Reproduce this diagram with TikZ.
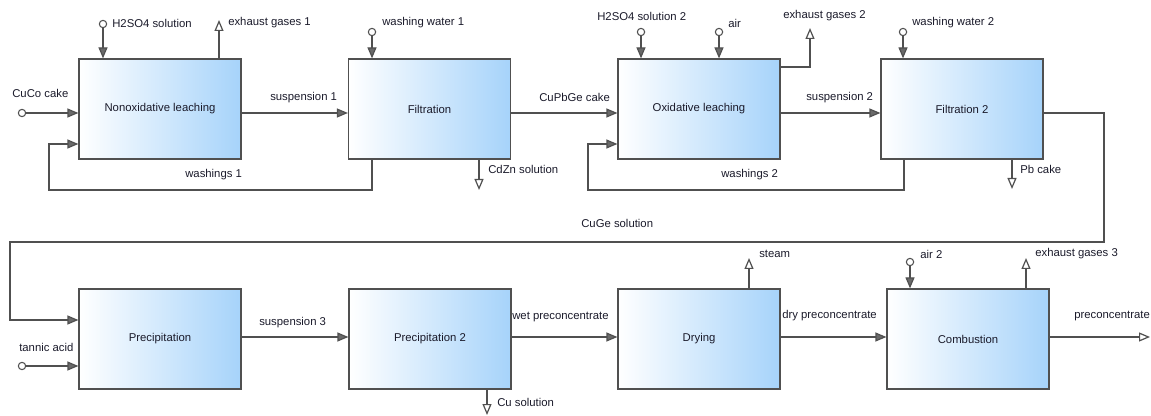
\documentclass[tikz,border=0pt]{standalone}
\usepackage{fontspec}
\setmainfont{Liberation Sans}
\usetikzlibrary{arrows.meta}
\definecolor{linegray}{HTML}{505050}
\definecolor{tipgray}{HTML}{6A6A6A}
\definecolor{boxblue}{HTML}{A6D3FA}
\definecolor{txt}{HTML}{1A1A2A}
\begin{document}
\begin{tikzpicture}[x=0.75pt,y=-0.75pt,
 proc/.style={draw=linegray, line width=0.9pt, left color=white, right color=boxblue, minimum width=121.5pt, minimum height=75pt, inner sep=0, font=\fontsize{8.5}{10}\selectfont, text=txt},
 lbl/.style={anchor=west, inner sep=0, font=\fontsize{8.5}{10}\selectfont, text=txt},
 src/.style={circle, draw=linegray, fill=white, line width=0.8pt, minimum size=5.5pt, inner sep=0},
 flow/.style={draw=linegray, line width=0.9pt, -{Triangle[length=8.25pt,width=6.75pt,fill=tipgray]}},
 outflow/.style={draw=linegray, line width=0.9pt, -{Triangle[length=8.25pt,width=6.75pt,fill=white]}},
]
\useasboundingbox (0,0) rectangle (1151,416);
% process boxes
\node[proc] (nl) at (160,109) {Nonoxidative leaching};
\node[proc] (f1) at (429.5,109) {Filtration};
\node[proc] (ol) at (699,109) {Oxidative leaching};
\node[proc] (f2) at (962,109) {Filtration 2};
\node[proc] (pr) at (160,339) {Precipitation};
\node[proc] (pr2) at (430,339) {Precipitation 2};
\node[proc] (dr) at (699,339) {Drying};
\node[proc] (cb) at (968,339) {Combustion};
% levels
\coordinate (yt) at (0,113);
\coordinate (yr) at (0,144);
\coordinate (yb) at (0,337);
% top row
\node[src] (cuco) at (22,113) {};
\draw[flow] (cuco) -- (cuco -| nl.west);
\node[src] (h1) at (103,24) {};
\draw[flow] (h1) -- (h1 |- nl.north);
\coordinate (ex1) at (219,20);
\draw[outflow] (ex1 |- nl.north) -- (ex1);
\draw[flow] (nl.east |- yt) -- (f1.west |- yt);
\node[src] (ww1) at (372,32) {};
\draw[flow] (ww1) -- (ww1 |- f1.north);
\coordinate (wa1) at (372,190);
\coordinate (wb1) at (49,190);
\draw[flow] (wa1 |- f1.south) -- (wa1) -- (wb1) -- (wb1 |- yr) -- (nl.west |- yr);
\coordinate (cdzn) at (479,190);
\draw[outflow] (cdzn |- f1.south) -- (cdzn);
\draw[flow] (f1.east |- yt) -- (ol.west |- yt);
\node[src] (h2) at (641,32) {};
\draw[flow] (h2) -- (h2 |- ol.north);
\node[src] (air) at (719,32) {};
\draw[flow] (air) -- (air |- ol.north);
\coordinate (ex2a) at (810,67);
\coordinate (ex2) at (810,28);
\draw[outflow] (ol.east |- ex2a) -- (ex2a) -- (ex2);
\draw[flow] (ol.east |- yt) -- (f2.west |- yt);
\node[src] (ww2) at (903,32) {};
\draw[flow] (ww2) -- (ww2 |- f2.north);
\coordinate (wa2) at (904,190);
\coordinate (wb2) at (588,190);
\draw[flow] (wa2 |- f2.south) -- (wa2) -- (wb2) -- (wb2 |- yr) -- (ol.west |- yr);
\coordinate (pb) at (1012,189);
\draw[outflow] (pb |- f2.south) -- (pb);
\coordinate (g1) at (1104,113);
\coordinate (g2) at (1104,242);
\coordinate (g3) at (10,242);
\coordinate (g4) at (10,320);
\draw[flow] (f2.east |- g1) -- (g1) -- (g2) -- (g3) -- (g4) -- (pr.west |- g4);
% bottom row
\node[src] (tan) at (22,366) {};
\draw[flow] (tan) -- (tan -| pr.west);
\draw[flow] (pr.east |- yb) -- (pr2.west |- yb);
\coordinate (cu) at (487,415);
\draw[outflow] (cu |- pr2.south) -- (cu);
\draw[flow] (pr2.east |- yb) -- (dr.west |- yb);
\coordinate (st) at (749,258);
\draw[outflow] (st |- dr.north) -- (st);
\draw[flow] (dr.east |- yb) -- (cb.west |- yb);
\node[src] (air2) at (910,262) {};
\draw[flow] (air2) -- (air2 |- cb.north);
\coordinate (ex3) at (1026,258);
\draw[outflow] (ex3 |- cb.north) -- (ex3);
\coordinate (pc) at (1150,337);
\draw[outflow] (cb.east |- pc) -- (pc);
% labels
\node[lbl] (l1) at (12,93) {CuCo cake};
\node[lbl] (l2) at (112,23) {H2SO4 solution};
\node[lbl] (l3) at (228,23) {exhaust gases 1};
\node[lbl] (l4) at (270,98) {suspension 1};
\node[lbl] (l5) at (382,23) {washing water 1};
\node[lbl] (l6) at (185,175) {washings 1};
\node[lbl] (l7) at (488,169) {CdZn solution};
\node[lbl] (l8) at (539,97) {CuPbGe cake};
\node[lbl] (l9) at (597,16) {H2SO4 solution 2};
\node[lbl] (l10) at (728,23) {air};
\node[lbl] (l11) at (783,16) {exhaust gases 2};
\node[lbl] (l12) at (806,98) {suspension 2};
\node[lbl] (l13) at (721,175) {washings 2};
\node[lbl] (l14) at (912,23) {washing water 2};
\node[lbl] (l15) at (1020,169) {Pb cake};
\node[lbl] (l16) at (581,223) {CuGe solution};
\node[lbl] (l17) at (19,347) {tannic acid};
\node[lbl] (l18) at (259,323) {suspension 3};
\node[lbl] (l19) at (512,317) {wet preconcentrate};
\node[lbl] (l20) at (759,254) {steam};
\node[lbl] (l21) at (782,316) {dry preconcentrate};
\node[lbl] (l22) at (920,254) {air 2};
\node[lbl] (l23) at (1035,254) {exhaust gases 3};
\node[lbl] (l24) at (1074,316) {preconcentrate};
\node[lbl] (l25) at (497,402) {Cu solution};
\end{tikzpicture}
\end{document}
